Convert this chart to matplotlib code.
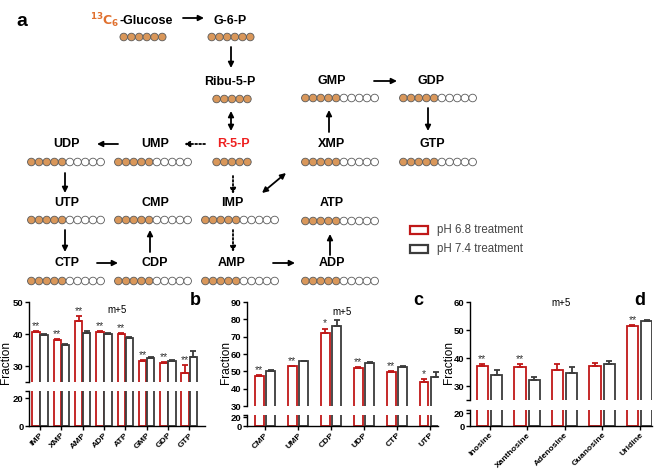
import numpy as np
import matplotlib
matplotlib.use("Agg")
import matplotlib.pyplot as plt
from matplotlib.patches import Rectangle

plt.rcParams['font.family'] = ['Liberation Sans', 'DejaVu Sans']

# ---- data ----
b_cats = ["IMP", "XMP", "AMP", "ADP", "ATP", "GMP", "GDP", "GTP"]
b_red = [40.7, 38.1, 44.2, 40.7, 40.0, 31.7, 30.8, 27.9]
b_red_err = [0.3, 0.3, 1.5, 0.3, 0.3, 0.3, 0.3, 2.4]
b_gray = [39.7, 36.6, 40.4, 40.0, 38.8, 32.6, 31.6, 32.9]
b_gray_err = [0.3, 0.3, 0.4, 0.3, 0.2, 0.2, 0.4, 1.9]
b_stars = ["**", "**", "**", "**", "**", "**", "**", "**"]

c_cats = ["CMP", "UMP", "CDP", "UDP", "CTP", "UTP"]
c_red = [47.4, 52.8, 72.2, 52.0, 49.6, 43.8]
c_red_err = [0.6, 0.3, 2.5, 0.4, 0.5, 2.0]
c_gray = [50.2, 55.9, 76.2, 54.6, 52.3, 47.0]
c_gray_err = [0.3, 0.2, 3.3, 0.5, 0.6, 2.6]
c_stars = ["**", "**", "*", "**", "**", "*"]

d_cats = ["Inosine", "Xanthosine", "Adenosine", "Guanosine", "Uridine"]
d_red = [37.1, 36.7, 35.8, 37.3, 51.4]
d_red_err = [0.8, 1.2, 1.9, 1.0, 0.3]
d_gray = [34.0, 32.2, 34.7, 37.9, 53.2]
d_gray_err = [1.8, 0.9, 2.0, 1.0, 0.3]
d_stars = ["**", "**", "", "", "**"]

legend_labels = ["pH 6.8 treatment", "pH 7.4 treatment"]

# pathway nodes: name, text x, text y, bead centre x, bead y, labelled, total
nodes = [
    ("G-6-P", 230, 21, 231, 37, 6, 6),
    ("Ribu-5-P", 230, 82, 232, 99, 5, 5),
    ("R-5-P", 233, 144, 232, 162, 5, 5),
    ("UMP", 155, 144, 153, 162, 5, 10),
    ("UDP", 67, 144, 66, 162, 5, 10),
    ("UTP", 67, 203, 66, 220, 5, 10),
    ("CMP", 155, 203, 153, 220, 5, 10),
    ("IMP", 232, 203, 240, 220, 5, 10),
    ("CTP", 67, 263, 66, 281, 5, 10),
    ("CDP", 155, 263, 153, 281, 5, 10),
    ("AMP", 232, 263, 240, 281, 5, 10),
    ("ADP", 332, 263, 340, 281, 5, 10),
    ("ATP", 332, 203, 340, 221, 5, 10),
    ("XMP", 332, 144, 340, 162, 5, 10),
    ("GTP", 432, 144, 438, 162, 5, 10),
    ("GMP", 332, 81, 340, 98, 5, 10),
    ("GDP", 431, 81, 438, 98, 5, 10),
]

RED = '#c01818'
GRAY = '#3c3c3c'
ORANGE = '#d9975a'

W, H = 659, 469
fig = plt.figure(figsize=(W / 100, H / 100), dpi=100)

# ---- panel a : pathway, drawn in pixel coordinates ----
ax0 = fig.add_axes([0, 0, 1, 1])
ax0.set_xlim(0, W)
ax0.set_ylim(H, 0)
ax0.axis('off')


def beads(cx, y, n_lab, n_tot, step=7.7):
    xs = cx + (np.arange(n_tot) - (n_tot - 1) / 2) * step
    fc = [ORANGE if i < n_lab else 'white' for i in range(n_tot)]
    ax0.scatter(xs, [y] * n_tot, s=30, c=fc, edgecolors='#5a5a5a', linewidths=0.6, zorder=3)


def arrow(x0, y0, x1, y1, style='-|>', ls='-'):
    ax0.annotate('', xy=(x1, y1), xytext=(x0, y0),
                 arrowprops=dict(arrowstyle=style, color='black', lw=1.3, linestyle=ls,
                                 shrinkA=0, shrinkB=0, mutation_scale=8))


ax0.text(22, 22, "a", fontsize=14, fontweight='bold', ha='center', va='center')
ax0.text(120, 21, r"$\mathbf{^{13}C_6}$", color='#e0702e', fontsize=9, fontweight='bold', ha='right', va='center')
ax0.text(120, 21, "-Glucose", fontsize=9, fontweight='bold', ha='left', va='center')
beads(143, 37, 6, 6)

for name, tx, ty, bx, by, nl, nt in nodes:
    col = '#ee2020' if name == "R-5-P" else 'black'
    ax0.text(tx, ty, name, fontsize=9, fontweight='bold', ha='center', va='center', color=col)
    beads(bx, by, nl, nt)

dot = (0, (1, 1.2))
arrow(183, 18, 204, 18)
arrow(231, 47, 231, 68)
arrow(231, 111, 231, 131, style='<|-|>')
arrow(205, 144, 184, 144, ls=dot)
arrow(118, 144, 97, 144)
arrow(65, 173, 65, 193)
arrow(233, 176, 233, 194, ls=dot)
arrow(262, 193, 286, 173, style='<|-|>')
arrow(65, 230, 65, 252)
arrow(150, 252, 150, 230)
arrow(233, 230, 233, 252, ls=dot)
arrow(97, 263, 118, 263)
arrow(273, 263, 295, 263)
arrow(330, 255, 330, 234)
arrow(329, 132, 329, 110)
arrow(374, 81, 397, 81)
arrow(428, 108, 428, 131)

# legend
for i, (lab, col) in enumerate(zip(legend_labels, [RED, GRAY])):
    y = 230 + i * 19
    ax0.add_patch(Rectangle((410, y - 4), 18, 8, facecolor='white', edgecolor=col, lw=1.6))
    ax0.text(437, y, lab, fontsize=8.3, color='#444444', ha='left', va='center')


# ---- bar panels b, c, d ----
def px_box(x0, y0, x1, y1):
    return [x0 / W, 1 - y1 / H, (x1 - x0) / W, (y1 - y0) / H]


def panel(cats, red, red_err, gray, gray_err, stars, x0, x1, ytop, ybrk, ybtop, ybot,
          top_lim, top_ticks, xlim, off, width, letter, title_y, ylab_x):
    x = np.arange(len(cats))
    axt = fig.add_axes(px_box(x0, ytop, x1, ybrk))
    axb = fig.add_axes(px_box(x0, ybtop, x1, ybot))
    for ax in (axt, axb):
        ax.set_facecolor('none')
        ax.bar(x - off, red, width, facecolor='white', edgecolor=RED, lw=1.3)
        ax.bar(x + off, gray, width, facecolor='white', edgecolor=GRAY, lw=1.3)
        ax.set_xlim(*xlim)
        for s in ['top', 'right']:
            ax.spines[s].set_visible(False)
        ax.spines['left'].set_linewidth(1.0)
        ax.tick_params(axis='y', length=3, width=1.0, labelsize=6.8, pad=1)
    axt.errorbar(x - off, red, yerr=[np.zeros(len(x)), red_err], fmt='none',
                 ecolor=RED, elinewidth=1.3, capsize=2.5, capthick=1.3)
    axt.errorbar(x + off, gray, yerr=[np.zeros(len(x)), gray_err], fmt='none',
                 ecolor=GRAY, elinewidth=1.3, capsize=2.5, capthick=1.3)
    for xi, v, e, s in zip(x - off, red, red_err, stars):
        if s:
            axt.annotate(s, (xi, v + e), xytext=(0, 0), textcoords='offset points',
                         ha='center', va='bottom', fontsize=7.5, color='#333333')
    axt.set_ylim(*top_lim)
    axt.set_yticks(top_ticks)
    axt.set_yticklabels([''] + [str(t) for t in top_ticks[1:]] if top_ticks[0] == 25
                        else [str(t) for t in top_ticks], fontweight='bold')
    axt.spines['bottom'].set_visible(False)
    axt.set_xticks([])
    axb.set_ylim(0, 25)
    axb.set_yticks([0, 20, 25])
    axb.set_yticklabels(['0', '20', ''], fontweight='bold')
    axb.spines['bottom'].set_linewidth(1.0)
    axb.set_xticks(x)
    axb.set_xticklabels(cats, rotation=45, ha='right', rotation_mode='anchor',
                        fontsize=6.1, fontweight='bold')
    axb.tick_params(axis='x', length=3, width=1.0, pad=1)
    mid = (x0 + x1) / 2
    fig.text(mid / W, 1 - title_y / H, "m+5", fontsize=7, ha='center', va='center')
    fig.text(ylab_x / W, 1 - 362 / H, "Fraction", fontsize=8.6, rotation=90, ha='center', va='center')
    fig.text(letter[1] / W, 1 - 300 / H, letter[0], fontsize=13, fontweight='bold', ha='center', va='center')


panel(b_cats, b_red, b_red_err, b_gray, b_gray_err, b_stars,
      29, 205, 302, 382, 391, 426, (25, 50), [25, 30, 40, 50], (-0.52, 7.74), 0.19, 0.35,
      ("b", 195), 310, 6)
panel(c_cats, c_red, c_red_err, c_gray, c_gray_err, c_stars,
      247, 438, 302, 406, 414.75, 426, (30, 90), [30, 40, 50, 60, 70, 80, 90], (-0.55, 5.25), 0.175, 0.27,
      ("c", 418), 312, 226)
panel(d_cats, d_red, d_red_err, d_gray, d_gray_err, d_stars,
      470, 652, 302, 400, 410, 426, (25, 60), [25, 30, 40, 50, 60], (-0.52, 4.33), 0.19, 0.3,
      ("d", 640), 303, 449)

fig.savefig("out.png", dpi=100)
